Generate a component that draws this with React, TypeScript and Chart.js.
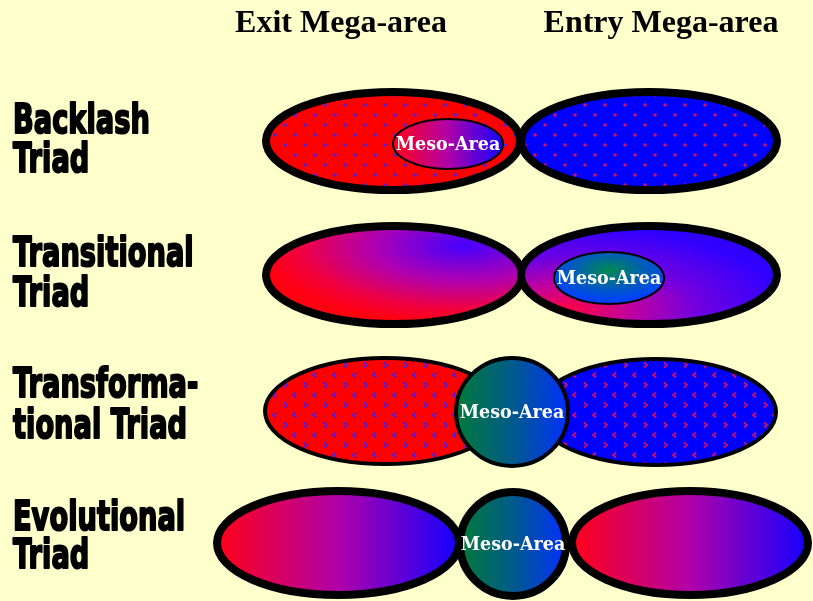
import React, { useEffect, useRef } from "react";
import { Chart, registerables } from "chart.js";

Chart.register(...registerables);

// ---- data ----
const headers = ["Exit Mega-area", "Entry Mega-area"];
const headerX = [341, 661];
const headerY = [32, 32];

const rowLabels = [
  ["Backlash", "Triad"],
  ["Transitional", "Triad"],
  ["Transforma-", "tional Triad"],
  ["Evolutional", "Triad"],
];
const rowLabelY = [
  [133, 172],
  [266, 306],
  [397, 438],
  [530, 568],
];

// shapes, drawn in order
const shapeName = [
  "exit1", "entry1", "meso1",
  "exit2", "entry2", "meso2",
  "exit3", "entry3", "meso3",
  "exit4", "entry4", "meso4",
];
const shapeCx = [393, 649, 448, 394, 649, 609, 385, 656, 512, 338, 690, 513];
const shapeCy = [141, 141, 144, 275, 275, 278, 411, 412, 412, 543, 543, 544];
const shapeRx = [127, 128, 55, 128, 128, 55, 120, 120, 56, 121, 118, 53];
const shapeRy = [49, 49, 25, 49, 49, 26, 53, 53, 54, 52, 52, 52];
const shapeLine = [8, 8, 2, 8, 8, 2, 4, 4, 4, 8, 8, 8];
const shapeFill = [
  "dotsRed", "dotsBlue", "linRB",
  "radExit", "radEntry", "radGreen",
  "chevRed", "chevBlue", "linGB",
  "linRB", "linRB", "linGB",
];
const shapeText = ["", "", "Meso-Area", "", "", "Meso-Area", "", "", "Meso-Area", "", "", "Meso-Area"];

function makePattern(ctx: CanvasRenderingContext2D, bg: string, fg: string, kind: string) {
  const c = document.createElement("canvas");
  c.width = 20;
  c.height = 20;
  const p = c.getContext("2d")!;
  p.fillStyle = bg;
  p.fillRect(0, 0, 20, 20);
  p.fillStyle = fg;
  p.strokeStyle = fg;
  if (kind === "dots") {
    for (const [x, y] of [[5, 5], [15, 15]]) {
      p.beginPath();
      p.arc(x, y, 1.8, 0, Math.PI * 2);
      p.fill();
    }
  } else {
    p.lineWidth = 1.8;
    // ">" chevron
    p.beginPath();
    p.moveTo(4, 2.5);
    p.lineTo(7, 5);
    p.lineTo(4, 7.5);
    p.stroke();
    // "<" chevron
    p.beginPath();
    p.moveTo(16, 12.5);
    p.lineTo(13, 15);
    p.lineTo(16, 17.5);
    p.stroke();
  }
  return ctx.createPattern(c, "repeat")!;
}

const shapesPlugin = {
  id: "shapes",
  afterDatasetsDraw(chart: any) {
    const ctx: CanvasRenderingContext2D = chart.ctx;
    const xs = chart.scales.x;
    const ys = chart.scales.y;
    const meta = chart.getDatasetMeta(0);
    ctx.save();
    meta.data.forEach((pt: any, i: number) => {
      const cx = pt.x;
      const cy = pt.y;
      const rx = Math.abs(xs.getPixelForValue(shapeCx[i] + shapeRx[i]) - cx);
      const ry = Math.abs(ys.getPixelForValue(shapeCy[i] + shapeRy[i]) - cy);
      const f = shapeFill[i];
      ctx.save();
      if (f === "dotsRed" || f === "dotsBlue" || f === "chevRed" || f === "chevBlue") {
        const red = f.endsWith("Red");
        const bg = red ? "#ff0000" : "#0000ff";
        const fg = red ? "#5020e0" : "#c81070";
        ctx.fillStyle = makePattern(ctx, bg, fg, f.startsWith("dots") ? "dots" : "chev");
        ctx.beginPath();
        ctx.ellipse(cx, cy, rx, ry, 0, 0, Math.PI * 2);
        ctx.fill();
      } else if (f === "linRB" || f === "linGB") {
        const g = ctx.createLinearGradient(cx - rx, 0, cx + rx, 0);
        if (f === "linRB") {
          g.addColorStop(0, "#ff0018");
          g.addColorStop(0.5, "#b000a8");
          g.addColorStop(1, "#1400ff");
        } else {
          g.addColorStop(0, "#007a38");
          g.addColorStop(0.5, "#005a8a");
          g.addColorStop(1, "#0030ff");
        }
        ctx.fillStyle = g;
        ctx.beginPath();
        ctx.ellipse(cx, cy, rx, ry, 0, 0, Math.PI * 2);
        ctx.fill();
      } else {
        ctx.translate(cx, cy);
        ctx.scale(rx, ry);
        let g: CanvasGradient;
        if (f === "radExit") {
          g = ctx.createRadialGradient(0.55, -0.6, 0, 0.55, -0.6, 1.6);
          g.addColorStop(0, "#4400ff");
          g.addColorStop(0.45, "#b000b0");
          g.addColorStop(0.8, "#f00040");
          g.addColorStop(1, "#ff0010");
        } else if (f === "radEntry") {
          g = ctx.createRadialGradient(-0.64, 0.7, 0, -0.64, 0.7, 1.7);
          g.addColorStop(0, "#ff0040");
          g.addColorStop(0.3, "#c000a0");
          g.addColorStop(0.6, "#7000e0");
          g.addColorStop(1, "#3000ff");
        } else {
          g = ctx.createRadialGradient(0, -0.3, 0, 0, -0.3, 1.2);
          g.addColorStop(0, "#008a50");
          g.addColorStop(0.5, "#0060b0");
          g.addColorStop(1, "#0040ff");
        }
        ctx.fillStyle = g;
        ctx.beginPath();
        ctx.arc(0, 0, 1, 0, Math.PI * 2);
        ctx.fill();
      }
      ctx.restore();
      ctx.beginPath();
      ctx.ellipse(cx, cy, rx, ry, 0, 0, Math.PI * 2);
      ctx.lineWidth = shapeLine[i];
      ctx.strokeStyle = "#000000";
      ctx.stroke();
      if (shapeText[i]) {
        ctx.fillStyle = "#ffffff";
        ctx.font = 'bold 17.5px "DejaVu Serif"';
        ctx.textAlign = "center";
        ctx.textBaseline = "middle";
        ctx.save();
        ctx.translate(cx, cy + 1);
        ctx.scale(1, 1.1);
        ctx.fillText(shapeText[i], 0, 0);
        ctx.restore();
      }
    });
    ctx.restore();
  },
  afterDraw(chart: any) {
    const ctx: CanvasRenderingContext2D = chart.ctx;
    const xs = chart.scales.x;
    const ys = chart.scales.y;
    ctx.save();
    ctx.fillStyle = "#000000";
    ctx.font = 'bold 32px "Liberation Serif"';
    ctx.textAlign = "center";
    ctx.textBaseline = "alphabetic";
    headers.forEach((h, i) => {
      ctx.fillText(h, xs.getPixelForValue(headerX[i]), ys.getPixelForValue(headerY[i]));
    });
    ctx.font = 'bold 41px "DejaVu Sans"';
    ctx.textAlign = "left";
    ctx.strokeStyle = "#000000";
    ctx.lineWidth = 2.2;
    ctx.lineJoin = "round";
    rowLabels.forEach((lines, r) => {
      lines.forEach((t, j) => {
        ctx.save();
        ctx.translate(xs.getPixelForValue(13), ys.getPixelForValue(rowLabelY[r][j]));
        ctx.scale(0.665, 1);
        ctx.fillText(t, 0, 0);
        ctx.strokeText(t, 0, 0);
        ctx.restore();
      });
    });
    ctx.restore();
  },
};

const bgPlugin = {
  id: "bg",
  beforeDraw(chart: any) {
    const ctx = chart.ctx;
    ctx.save();
    ctx.fillStyle = "#ffffcc";
    ctx.fillRect(0, 0, chart.width, chart.height);
    ctx.restore();
  },
};

export default function App() {
  const ref = useRef<HTMLCanvasElement | null>(null);
  useEffect(() => {
    if (!ref.current) return;
    const chart = new Chart(ref.current, {
      type: "scatter",
      data: {
        datasets: [
          {
            label: "shapes",
            data: shapeName.map((_, i) => ({ x: shapeCx[i], y: shapeCy[i] })),
            pointRadius: 0,
            pointHoverRadius: 0,
          },
        ],
      },
      options: {
        animation: false,
        responsive: false,
        maintainAspectRatio: false,
        layout: { padding: 0 },
        events: [],
        plugins: { legend: { display: false }, tooltip: { enabled: false }, title: { display: false } },
        scales: {
          x: { type: "linear", min: 0, max: 813, display: false },
          y: { type: "linear", min: 0, max: 601, reverse: true, display: false },
        },
      },
      plugins: [bgPlugin, shapesPlugin],
    });
    return () => chart.destroy();
  }, []);
  return (
    <div style={{ position: "absolute", left: 0, top: 0, width: 813, height: 601, background: "#ffffcc" }}>
      <canvas ref={ref} width={813} height={601} style={{ display: "block" }} />
    </div>
  );
}
